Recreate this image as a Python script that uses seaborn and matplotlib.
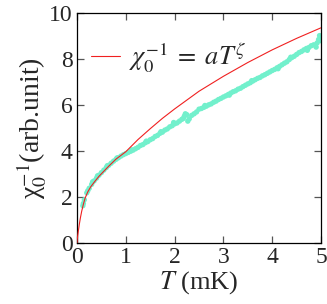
import numpy as np
import pandas as pd
import matplotlib
matplotlib.use('Agg')
import matplotlib.pyplot as plt
import seaborn as sns

# fit curve
fit_T = [0, 0.005, 0.014, 0.03, 0.048, 0.07, 0.096, 0.13, 0.164, 0.22, 0.28,
         0.355, 0.45, 0.55, 0.65, 0.8, 1.0, 1.25, 1.5, 1.75, 2.0, 2.5, 3.0,
         3.5, 4.0, 4.5, 5.0]
fit_chi = [0, 0.15, 0.3, 0.56, 0.82, 1.1, 1.38, 1.68, 1.94, 2.22, 2.44,
           2.65, 2.9, 3.12, 3.34, 3.65, 3.97, 4.5, 4.97, 5.42, 5.83, 6.6, 7.25,
           7.85, 8.4, 8.9, 9.36]

# measured points
data_T = [0.12, 0.15, 0.20, 0.25, 0.30, 0.35, 0.40, 0.45, 0.50, 0.55,
          0.60, 0.65, 0.70, 0.75, 0.80, 0.85, 0.90, 0.95, 1.00, 1.05,
          1.10, 1.15, 1.20, 1.25, 1.30, 1.35, 1.40, 1.45, 1.50, 1.55,
          1.60, 1.65, 1.70, 1.75, 1.80, 1.85, 1.90, 1.95, 2.00, 2.05,
          2.10, 2.15, 2.20, 2.25, 2.30, 2.35, 2.40, 2.45, 2.50, 2.55,
          2.60, 2.65, 2.70, 2.75, 2.80, 2.85, 2.90, 2.95, 3.00, 3.05,
          3.10, 3.15, 3.20, 3.25, 3.30, 3.35, 3.40, 3.45, 3.50, 3.55,
          3.60, 3.65, 3.70, 3.75, 3.80, 3.85, 3.90, 3.95, 4.00, 4.05,
          4.10, 4.15, 4.20, 4.25, 4.30, 4.35, 4.40, 4.45, 4.50, 4.55,
          4.60, 4.65, 4.70, 4.75, 4.80, 4.85, 4.90, 4.95, 5.00,
          0.13, 0.22, 0.32, 0.42, 0.62, 0.82, 1.12, 1.42, 1.72, 1.98,
          2.18, 2.22, 2.27, 2.62, 3.12, 3.58, 4.12, 4.38, 4.72, 4.97,
          4.99, 4.92]
data_chi = [1.62, 1.88, 2.18, 2.38, 2.55, 2.70, 2.82, 2.95, 3.06, 3.17,
            3.28, 3.38, 3.47, 3.56, 3.64, 3.71, 3.78, 3.84, 3.89, 3.94,
            3.99, 4.04, 4.10, 4.16, 4.24, 4.28, 4.36, 4.41, 4.49, 4.54,
            4.63, 4.68, 4.77, 4.82, 4.91, 4.96, 5.05, 5.10, 5.18, 5.22,
            5.30, 5.38, 5.52, 5.58, 5.40, 5.55, 5.62, 5.70, 5.82, 5.85,
            5.90, 5.95, 6.01, 6.05, 6.12, 6.17, 6.24, 6.29, 6.35, 6.40,
            6.46, 6.52, 6.58, 6.62, 6.69, 6.73, 6.80, 6.86, 6.92, 6.97,
            7.04, 7.10, 7.16, 7.20, 7.27, 7.32, 7.38, 7.44, 7.50, 7.55,
            7.62, 7.68, 7.75, 7.82, 7.88, 7.98, 8.06, 8.12, 8.20, 8.28,
            8.33, 8.40, 8.46, 8.50, 8.58, 8.62, 8.52, 8.85, 8.95,
            1.72, 2.27, 2.66, 2.92, 3.36, 3.70, 4.05, 4.43, 4.84, 5.24,
            5.42, 5.62, 5.30, 5.98, 6.43, 7.06, 7.58, 8.08, 8.38, 9.02,
            8.80, 8.70]

sns.set_style('ticks')
plt.rcParams.update({
    'font.family': ['Liberation Serif', 'DejaVu Serif'],
    'mathtext.fontset': 'stix',
    'xtick.direction': 'in',
    'ytick.direction': 'in',
    'xtick.top': True,
    'ytick.right': True,
    'axes.edgecolor': 'black',
    'axes.linewidth': 0.9,
})

fig = plt.figure(figsize=(3.27, 3.04), dpi=100)
ax = fig.add_axes([0.2355, 0.2007, 0.7462, 0.7563])

sns.scatterplot(x=data_T, y=data_chi, ax=ax, color='#72F0CC', s=15,
                edgecolor='none', zorder=2)
sns.lineplot(x=fit_T, y=fit_chi, ax=ax, color='#F02020', linewidth=0.8,
             label=r'$\chi_0^{-1}\;=\;aT^{\zeta}$', zorder=3)

ax.set_xlim(0, 5)
ax.set_ylim(0, 10)
ax.set_xticks([0, 1, 2, 3, 4, 5])
ax.set_yticks([0, 2, 4, 6, 8, 10])
ax.tick_params(axis='both', which='major', labelsize=17, length=5, width=0.9,
               color='#555555', pad=3)
ax.set_xlabel(r'$T$ (mK)', fontsize=19, labelpad=1)
ax.set_ylabel('χ$_0^{-1}$(arb.unit)', fontsize=20, labelpad=0)

ax.legend(loc='upper left', frameon=False, fontsize=19, handlelength=1.1,
          handletextpad=0.35, borderaxespad=0.3, bbox_to_anchor=(-0.02, 0.96))

fig.savefig('out.png', dpi=100)
